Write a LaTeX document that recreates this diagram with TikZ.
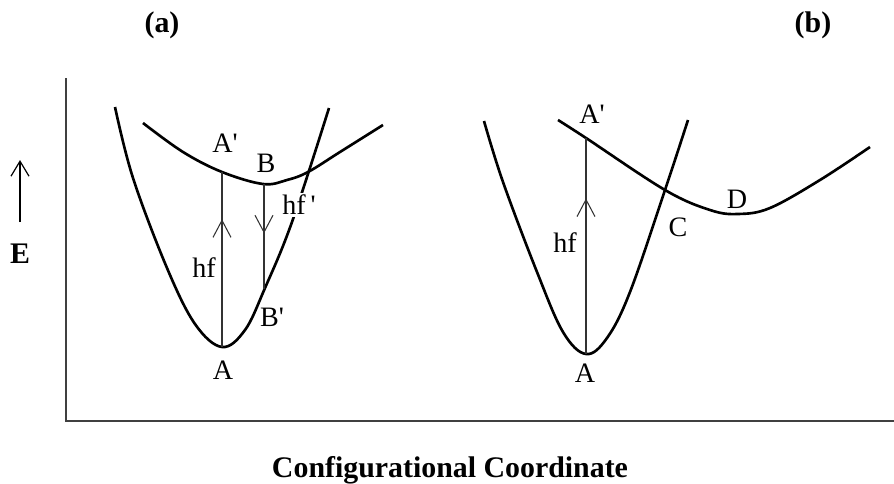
\documentclass[tikz,border=0pt]{standalone}
\usepackage{fontspec}
\setmainfont{Liberation Serif}
\usetikzlibrary{arrows.meta,decorations.markings}

\tikzset{
  curve/.style={line width=1.5pt, black, line join=round},
  trans/.style={line width=0.7pt, black!80},
  axis/.style={line width=1.2pt, black!75},
  lbl/.style={font=\fontsize{16}{19}\selectfont, inner sep=1pt},
  ttl/.style={font=\fontsize{17}{20}\selectfont\bfseries},
  midarrow/.style={postaction={decorate}, decoration={markings,
      mark=at position #1 with {\arrow{Straight Barb[length=3.4mm, width=3.6mm, line width=0.6pt]}}}}
}
\newcommand{\prm}{\textquotesingle}

\begin{document}
\begin{tikzpicture}[x=0.2mm, y=-0.2mm]
  \useasboundingbox (0,0) rectangle (894,484);

  % axes
  \draw[axis] (66,78) -- (66,421) -- (894,421);
  \coordinate (e0) at (20,222);
  \coordinate (e1) at (20,160);
  \draw[line width=0.7pt, -{Straight Barb[length=3mm, width=3.6mm]}] (e0) -- (e1);
  \node[ttl] (elabel) at (20,254) {E};
  \node[ttl] (xlabel) at (450,470) {Configurational Coordinate};
  \node[ttl] (ta) at (162,25) {(a)};
  \node[ttl] (tb) at (813,25) {(b)};

  % (a) ground and excited state
  \draw[curve] plot[smooth, tension=0.6] coordinates {(115,107) (133,178) (167,268) (195,324) (222,347)
    (245,330) (265,288) (292,222) (329,108)};
  \draw[curve] plot[smooth, tension=0.6] coordinates {(143,123) (183,152) (222,172) (263,184)
    (287,180) (308,172) (340,152) (383,125)};
  \coordinate (aA) at (222,347);
  \coordinate (aAp) at (222,172);
  \coordinate (aB) at (264,184);
  \coordinate (aBp) at (264,289);
  \draw[trans, midarrow=0.73] (aA) -- (aAp);
  \draw[trans, midarrow=0.47] (aB) -- (aBp);
  \node[lbl] (aAlbl) at (223,370) {A};
  \node[lbl] (aAplbl) at (225,143) {A\prm};
  \node[lbl] (aBlbl) at (266,163) {B};
  \node[lbl] (aBplbl) at (272,317) {B\prm};
  \node[lbl] (ahf) at (204,268) {hf};
  \node[lbl, fill=white] (ahfp) at (299,205) {hf\,\prm};

  % (b) ground and excited state
  \draw[curve] plot[smooth, tension=0.6] coordinates {(484,121) (503,182) (537,272) (563,332) (586,354)
    (607,338) (630,292) (665,190) (688,120)};
  \draw[curve] plot[smooth, tension=0.6] coordinates {(558,120) (586,138) (665,190) (710,210)
    (738,214) (770,208) (820,180) (870,147)};
  \coordinate (bA) at (586,354);
  \coordinate (bAp) at (586,138);
  \draw[trans, midarrow=0.72] (bA) -- (bAp);
  \node[lbl] (bAlbl) at (585,373) {A};
  \node[lbl] (bAplbl) at (592,114) {A\prm};
  \node[lbl] (bClbl) at (678,227) {C};
  \node[lbl] (bDlbl) at (737,199) {D};
  \node[lbl] (bhf) at (565,243) {hf};
\end{tikzpicture}
\end{document}
